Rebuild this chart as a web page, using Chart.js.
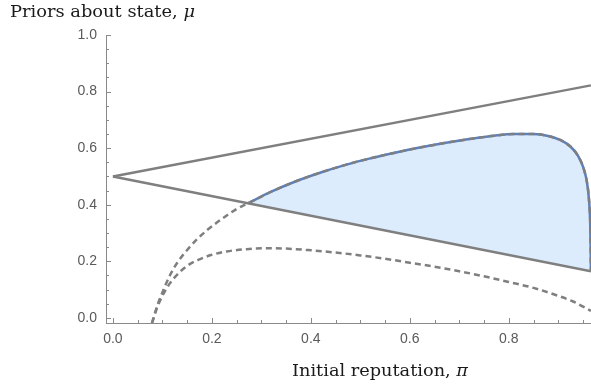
<!DOCTYPE html>
<html>
<head>
<meta charset="utf-8">
<script src="https://cdn.jsdelivr.net/npm/chart.js@4"></script>
<style>
  body { margin: 0; background: #fff; }
  #wrap { width: 591px; height: 389px; position: relative; }
</style>
</head>
<body>
<div id="wrap"><canvas id="c"></canvas></div>
<script>
// straight boundaries from (0, 0.5)
const upperLineX = [0, 0.966];
const upperLineY = [0.5, 0.822];
const lowerLineX = [0, 0.966];
const lowerLineY = [0.5, 0.165];

// upper edge of the shaded region (also the solid blue curve)
const regionX = [0.273, 0.32, 0.37, 0.42, 0.47, 0.52, 0.57, 0.62, 0.67, 0.72, 0.77, 0.81, 0.85, 0.88, 0.905, 0.925, 0.94, 0.951, 0.958, 0.962, 0.9645, 0.9655, 0.966];
const regionY = [0.405, 0.446, 0.483, 0.514, 0.541, 0.564, 0.584, 0.602, 0.618, 0.632, 0.644, 0.650, 0.650, 0.643, 0.628, 0.605, 0.573, 0.530, 0.480, 0.420, 0.340, 0.250, 0.165];

// dashed curve, left part before it joins the region edge
const dashAX = [0.079, 0.09, 0.10, 0.115, 0.13, 0.15, 0.17, 0.19, 0.21, 0.23, 0.25, 0.273];
const dashAY = [-0.018, 0.045, 0.09, 0.15, 0.195, 0.24, 0.278, 0.31, 0.337, 0.362, 0.385, 0.405];

// lower dashed curve
const dashBX = [0.079, 0.09, 0.10, 0.115, 0.13, 0.15, 0.175, 0.2, 0.23, 0.27, 0.31, 0.35, 0.40, 0.45, 0.50, 0.55, 0.60, 0.65, 0.70, 0.75, 0.80, 0.85, 0.90, 0.93, 0.966];
const dashBY = [-0.018, 0.04, 0.078, 0.122, 0.153, 0.184, 0.207, 0.223, 0.235, 0.243, 0.246, 0.245, 0.239, 0.231, 0.221, 0.209, 0.195, 0.181, 0.165, 0.147, 0.127, 0.106, 0.078, 0.058, 0.025];

const xTicks = [];
for (let i = 0; i <= 19; i++) xTicks.push(i * 0.05);
const yTicks = [];
for (let i = 0; i <= 20; i++) yTicks.push(i * 0.05);

const yTitle = ['Priors about state, ', 'μ'];
const xTitle = ['Initial reputation, ', 'π'];

const pts = (xs, ys) => xs.map((x, i) => ({ x: x, y: ys[i] }));
const isMajor = v => Math.abs(v / 0.2 - Math.round(v / 0.2)) < 1e-6;

const gray = '#7f7f7f';

// draw "roman + italic" text squeezed to a given width
function drawTitle(ctx, parts, left, baseline, size, width) {
  const fam = '"DejaVu Serif", serif';
  ctx.font = size + 'px ' + fam;
  const w0 = ctx.measureText(parts[0]).width;
  ctx.font = 'italic ' + size + 'px ' + fam;
  const w1 = ctx.measureText(parts[1]).width;
  const k = width / (w0 + w1);
  ctx.save();
  ctx.translate(left, baseline);
  ctx.scale(k, 1);
  ctx.font = size + 'px ' + fam;
  ctx.fillText(parts[0], 0, 0);
  ctx.font = 'italic ' + size + 'px ' + fam;
  ctx.fillText(parts[1], w0, 0);
  ctx.restore();
}

const decor = {
  id: 'decor',
  afterDraw(chart) {
    const ctx = chart.ctx;
    const xs = chart.scales.x, ys = chart.scales.y;
    const ax = chart.chartArea;
    ctx.save();
    ctx.strokeStyle = '#8a8a8a';
    ctx.lineWidth = 1;
    ctx.beginPath();
    xTicks.forEach(v => {
      const px = Math.round(xs.getPixelForValue(v)) + 0.5;
      const len = isMajor(v) ? 5 : 3;
      ctx.moveTo(px, ax.bottom);
      ctx.lineTo(px, ax.bottom - len);
    });
    yTicks.forEach(v => {
      const py = Math.round(ys.getPixelForValue(v)) + 0.5;
      const len = isMajor(v) ? 5 : 3;
      ctx.moveTo(ax.left, py);
      ctx.lineTo(ax.left + len, py);
    });
    ctx.stroke();
    ctx.fillStyle = '#1a1a1a';
    ctx.textBaseline = 'alphabetic';
    ctx.textAlign = 'left';
    drawTitle(ctx, yTitle, 10, 17, 16, 185);
    drawTitle(ctx, xTitle, 292, 376, 16, 176);
    ctx.restore();
  }
};

new Chart(document.getElementById('c').getContext('2d'), {
  type: 'scatter',
  data: {
    datasets: [
      {
        data: pts(regionX, regionY),
        showLine: true,
        borderColor: '#5b80bd',
        borderWidth: 2.5,
        backgroundColor: 'rgb(221,236,253)',
        fill: { target: 3 },
        cubicInterpolationMode: 'monotone',
        pointRadius: 0,
        order: 5
      },
      {
        data: pts(dashBX, dashBY),
        showLine: true,
        borderColor: gray,
        borderWidth: 2.5,
        borderDash: [6, 4],
        cubicInterpolationMode: 'monotone',
        pointRadius: 0,
        order: 4
      },
      {
        data: pts(dashAX.concat(regionX.slice(1)), dashAY.concat(regionY.slice(1))),
        showLine: true,
        borderColor: gray,
        borderWidth: 2.5,
        borderDash: [6, 4],
        cubicInterpolationMode: 'monotone',
        pointRadius: 0,
        order: 3
      },
      {
        data: pts(lowerLineX, lowerLineY),
        showLine: true,
        borderColor: gray,
        borderWidth: 2.5,
        pointRadius: 0,
        order: 2
      },
      {
        data: pts(upperLineX, upperLineY),
        showLine: true,
        borderColor: gray,
        borderWidth: 2.5,
        pointRadius: 0,
        order: 1
      }
    ]
  },
  options: {
    responsive: true,
    maintainAspectRatio: false,
    animation: false,
    layout: { padding: { top: 35, right: 0, left: 0, bottom: 0 } },
    plugins: {
      legend: { display: false },
      tooltip: { enabled: false }
    },
    scales: {
      x: {
        type: 'linear',
        min: -0.014,
        max: 0.966,
        afterBuildTicks: s => { s.ticks = xTicks.map(v => ({ value: v })); },
        afterFit: s => { s.height = 66; },
        grid: { display: false, drawTicks: false },
        border: { display: true, color: '#8a8a8a', width: 1 },
        ticks: {
          autoSkip: false,
          maxRotation: 0,
          padding: 8,
          color: '#5a5a5a',
          font: { family: '"Liberation Sans", Arial, sans-serif', size: 14 },
          callback: v => isMajor(v) ? v.toFixed(1) : ''
        }
      },
      y: {
        type: 'linear',
        min: -0.018,
        max: 1.0,
        afterBuildTicks: s => { s.ticks = yTicks.map(v => ({ value: v })); },
        afterFit: s => { s.width = 106; },
        grid: { display: false, drawTicks: false },
        border: { display: true, color: '#8a8a8a', width: 1 },
        ticks: {
          autoSkip: false,
          padding: 9,
          color: '#5a5a5a',
          font: { family: '"Liberation Sans", Arial, sans-serif', size: 14 },
          callback: v => isMajor(v) ? v.toFixed(1) : ''
        }
      }
    }
  },
  plugins: [decor]
});
</script>
</body>
</html>
